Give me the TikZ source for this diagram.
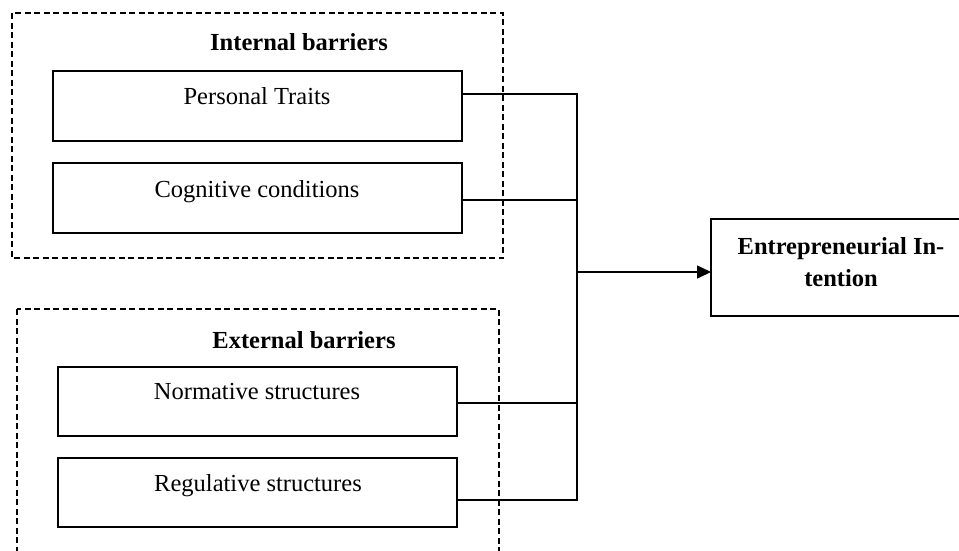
\documentclass[tikz,border=0pt]{standalone}
\usepackage{fontspec}
\setmainfont{Liberation Serif}
\usetikzlibrary{arrows.meta}
\begin{document}
\begin{tikzpicture}[x=1pt,y=-1pt,
  every node/.style={inner sep=0pt,outer sep=0pt},
  box/.style={draw,line width=1.7pt,minimum width=409pt,minimum height=70pt},
  sbox/.style={draw,line width=1.7pt,minimum width=399pt,minimum height=69pt},
  group/.style={draw,line width=1.3pt,dash pattern=on 6pt off 3.5pt},
  txt/.style={anchor=base,font=\fontsize{24.5}{31}\selectfont},
  btxt/.style={txt,font=\fontsize{24.5}{31}\selectfont\bfseries},
  conn/.style={line width=1.6pt}]
\useasboundingbox (0,0) rectangle (959,550);
\clip (0,0) rectangle (959,550);
% groups
\draw[group] (12,13) rectangle (503,258);
\draw[group] (17,309) rectangle (499,570);
\node[btxt] (ib) at (299,50) {Internal barriers};
\node[btxt] (eb) at (304,348) {External barriers};
% boxes
\node[box] (pt) at (257.5,106) {};
\node[box] (cc) at (257.5,198) {};
\node[sbox] (ns) at (257.5,401.5) {};
\node[sbox] (rs) at (257.5,492.5) {};
\node[txt] (ptt) at (257,104) {Personal Traits};
\node[txt] (cct) at (257,197) {Cognitive conditions};
\node[txt] (nst) at (257,399) {Normative structures};
\node[txt] (rst) at (258,491) {Regulative structures};
\node[draw,line width=1.7pt,minimum width=260pt,minimum height=97pt] (ei) at (841,267.5) {};
\node[align=center,font=\fontsize{24.5}{32}\selectfont\bfseries] (eit) at (841,262) {Entrepreneurial In-\\tention};
% connectors
\coordinate (j1) at (577,94);
\coordinate (j2) at (577,200);
\coordinate (j3) at (577,403);
\coordinate (j4) at (577,500);
\coordinate (ja) at (577,272);
\draw[conn] (j1 -| pt.east) -- (j1) -- (j4) -- (j4 -| rs.east);
\draw[conn] (j2 -| cc.east) -- (j2);
\draw[conn] (j3 -| ns.east) -- (j3);
\draw[conn,-{Triangle[length=14pt,width=13pt]}] (ja) -- (ja -| ei.west);
\end{tikzpicture}
\end{document}
